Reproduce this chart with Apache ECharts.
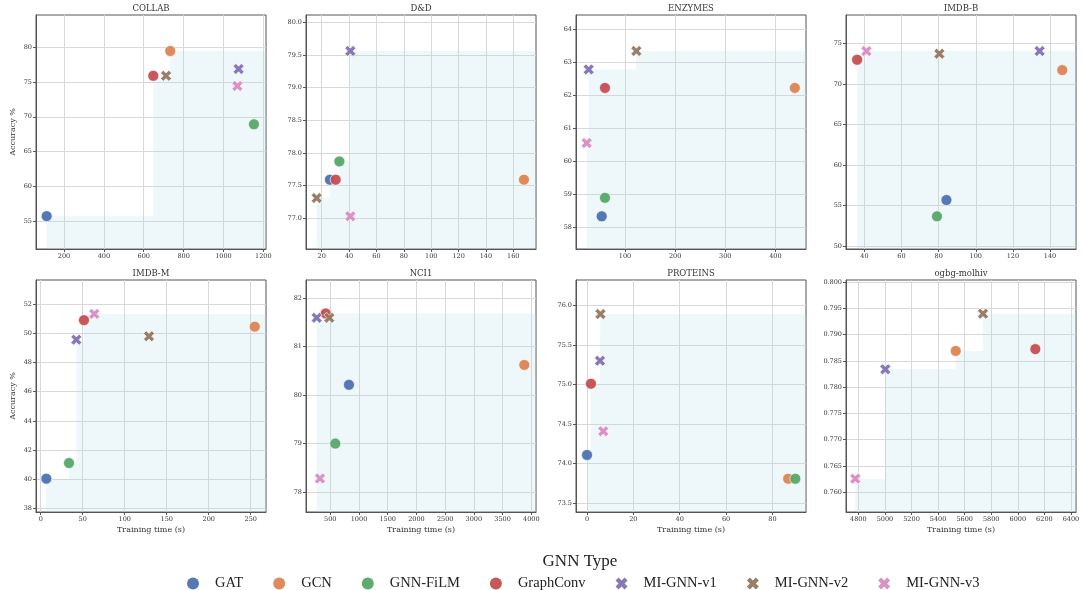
<!DOCTYPE html>
<html lang="en">
<head>
  <meta charset="UTF-8">
  <title>GNN accuracy vs training time</title>
  <script src="https://cdn.jsdelivr.net/npm/echarts@6/dist/echarts.min.js"></script>
  <style>
    * { margin: 0; padding: 0; box-sizing: border-box; }
    body { background: #fff; }
    #chart { width: 1083px; height: 590px; }
  </style>
</head>
<body>
<div id="chart"></div>
<script>
const datasets = ['COLLAB', 'D&D', 'ENZYMES', 'IMDB-B', 'IMDB-M', 'NCI1', 'PROTEINS', 'ogbg-molhiv'];
const models = ['GAT', 'GCN', 'GNN-FiLM', 'GraphConv', 'MI-GNN-v1', 'MI-GNN-v2', 'MI-GNN-v3'];
const colors = ['#4C72B0', '#DD8452', '#55A868', '#C44E52', '#8172B3', '#937860', '#DA8BC3'];

// training time (s) and accuracy, one value per model (order as in `models`)
const collabTime = [113, 733, 1153, 648, 1076, 712, 1070];
const collabAcc = [55.7, 79.47, 68.92, 75.9, 76.88, 75.9, 74.43];
const ddTime = [26, 167.8, 32.9, 30.2, 40.9, 16.3, 40.9];
const ddAcc = [77.59, 77.59, 77.87, 77.59, 79.56, 77.31, 77.03];
const enzymesTime = [53.5, 438.7, 60, 60, 27.5, 122.6, 23.5];
const enzymesAcc = [58.33, 62.22, 58.89, 62.22, 62.78, 63.34, 60.55];
const imdbBTime = [84.2, 146.6, 79.1, 36.1, 134.4, 80.4, 41.1];
const imdbBAcc = [55.67, 71.7, 53.66, 72.98, 74.05, 73.72, 74.05];
const imdbMTime = [6.7, 254.8, 33.7, 51.5, 42.4, 128.9, 63.8];
const imdbMAcc = [40.05, 50.45, 41.12, 50.89, 49.56, 49.79, 51.32];
const nci1Time = [825, 3878, 587, 420, 263, 483, 320];
const nci1Acc = [80.21, 80.62, 79.0, 81.68, 81.59, 81.59, 78.28];
const proteinsTime = [0, 86.8, 89.9, 1.7, 5.6, 5.8, 7.0];
const proteinsAcc = [74.11, 73.81, 73.81, 75.01, 75.3, 75.89, 74.41];
const molhivTime = [null, 5533, null, 6132, 5003, 5738, 4777];
const molhivAcc = [null, 0.7869, null, 0.78725, 0.7834, 0.794, 0.7626];

const times = [collabTime, ddTime, enzymesTime, imdbBTime, imdbMTime, nci1Time, proteinsTime, molhivTime];
const accs = [collabAcc, ddAcc, enzymesAcc, imdbBAcc, imdbMAcc, nci1Acc, proteinsAcc, molhivAcc];

// axis limits and tick labels
const xMin = [59.5, 8.5, 2.2, 30.1, -5.6, 77, -4.75, 4707];
const xMax = [1213.5, 176.6, 461, 154, 268.2, 4082, 94.5, 6438];
const yMin = [50.97, 76.53, 57.34, 49.63, 37.77, 77.59, 73.39, 0.75625];
const yMax = [84.65, 80.11, 64.43, 78.5, 53.64, 82.37, 76.32, 0.8004];
const xTicks = [
  [200, 400, 600, 800, 1000, 1200],
  [20, 40, 60, 80, 100, 120, 140, 160],
  [100, 200, 300, 400],
  [40, 60, 80, 100, 120, 140],
  [0, 50, 100, 150, 200, 250],
  [500, 1000, 1500, 2000, 2500, 3000, 3500, 4000],
  [0, 20, 40, 60, 80],
  [4800, 5000, 5200, 5400, 5600, 5800, 6000, 6200, 6400]
];
const yTicks = [
  [55, 60, 65, 70, 75, 80],
  [77.0, 77.5, 78.0, 78.5, 79.0, 79.5, 80.0],
  [58, 59, 60, 61, 62, 63, 64],
  [50, 55, 60, 65, 70, 75],
  [38, 40, 42, 44, 46, 48, 50, 52],
  [78, 79, 80, 81, 82],
  [73.5, 74.0, 74.5, 75.0, 75.5, 76.0],
  [0.760, 0.765, 0.770, 0.775, 0.780, 0.785, 0.790, 0.795, 0.800]
];
const yDecimals = [0, 1, 0, 0, 0, 0, 1, 3];

const xMark = 'path://M0,2.5 L2.5,0 L5,2.5 L7.5,0 L10,2.5 L7.5,5 L10,7.5 L7.5,10 L5,7.5 L2.5,10 L0,7.5 L2.5,5 Z';
const lefts = [36, 306, 576, 846];
const font = 'DejaVu Serif';

// staircase of best accuracy so far, ordered by training time
function paretoFront(t, a, xmax) {
  const pts = t.map((v, k) => [v, a[k]]).filter(p => p[0] != null).sort((p, q) => p[0] - q[0]);
  const front = [];
  let best = -Infinity;
  pts.forEach(p => { if (p[1] > best) { best = p[1]; front.push(p); } });
  front.push([xmax, best]);
  return front;
}

const grids = [], xAxes = [], yAxes = [], titles = [], series = [];
datasets.forEach((name, i) => {
  const row = Math.floor(i / 4), col = i % 4;
  grids.push({
    left: lefts[col], top: row ? 280 : 15, width: 230, height: row ? 232 : 234,
    show: true, borderColor: '#555', borderWidth: 1, backgroundColor: '#fff',
    containLabel: false, outerBoundsMode: 'none'
  });
  titles.push({
    text: name, left: lefts[col] + 115, top: row ? 269 : 4, textAlign: 'center', padding: 0,
    textStyle: { fontFamily: font, fontSize: 8.5, fontWeight: 'normal', color: '#333' }
  });
  xAxes.push({
    type: 'value', gridIndex: i, min: xMin[i], max: xMax[i],
    name: row ? 'Training time (s)' : '', nameLocation: 'middle', nameGap: 14,
    nameTextStyle: { fontFamily: font, fontSize: 8, color: '#333' },
    axisLine: { show: true, onZero: false, lineStyle: { color: '#555', width: 1 } },
    axisTick: { show: true, length: 3, customValues: xTicks[i], lineStyle: { color: '#555' } },
    axisLabel: {
      customValues: xTicks[i], fontFamily: font, fontSize: 6.5, color: '#333', margin: 4,
      formatter: v => String(v)
    },
    splitLine: { show: true, lineStyle: { color: '#d8d8d8', width: 1 } }
  });
  yAxes.push({
    type: 'value', gridIndex: i, min: yMin[i], max: yMax[i],
    name: col === 0 ? 'Accuracy %' : '', nameLocation: 'middle', nameGap: 19,
    nameTextStyle: { fontFamily: font, fontSize: 8, color: '#333' },
    axisLine: { show: true, onZero: false, lineStyle: { color: '#555', width: 1 } },
    axisTick: { show: true, length: 3, customValues: yTicks[i], lineStyle: { color: '#555' } },
    axisLabel: {
      customValues: yTicks[i], fontFamily: font, fontSize: 6.5, color: '#333', margin: 4,
      formatter: v => v.toFixed(yDecimals[i])
    },
    splitLine: { show: true, lineStyle: { color: '#d8d8d8', width: 1 } }
  });
  series.push({
    type: 'line', xAxisIndex: i, yAxisIndex: i, step: 'end', silent: true, z: 1,
    data: paretoFront(times[i], accs[i], xMax[i]), symbol: 'none',
    lineStyle: { width: 0, opacity: 0 },
    areaStyle: { color: 'rgba(173,216,230,0.3)', origin: 'start' }
  });
  models.forEach((m, k) => {
    if (times[i][k] == null) return;
    series.push({
      type: 'scatter', name: m, xAxisIndex: i, yAxisIndex: i, z: 3,
      data: [[times[i][k], accs[i][k]]],
      symbol: k >= 4 ? xMark : 'circle', symbolSize: 11,
      itemStyle: { color: colors[k], borderColor: '#fff', borderWidth: 0.7, opacity: 0.95 }
    });
  });
});

titles.push({
  text: 'GNN Type', left: 580, top: 553, textAlign: 'center', padding: 0,
  textStyle: { fontFamily: 'Liberation Serif', fontSize: 17, fontWeight: 'normal', color: '#222' }
});

const chart = echarts.init(document.getElementById('chart'), null, { renderer: 'canvas' });
chart.setOption({
  animation: false,
  backgroundColor: '#fff',
  title: titles,
  grid: grids,
  xAxis: xAxes,
  yAxis: yAxes,
  legend: {
    data: models.map((m, k) => ({
      name: m, icon: k >= 4 ? xMark : 'circle',
      itemStyle: { borderWidth: 0 }
    })),
    left: 182, top: 571, itemWidth: 12, itemHeight: 12, itemGap: 30,
    selectedMode: false,
    textStyle: { fontFamily: 'Liberation Serif', fontSize: 14.5, color: '#222', padding: [0, 0, 0, 11] }
  },
  series: series
});
</script>
</body>
</html>
